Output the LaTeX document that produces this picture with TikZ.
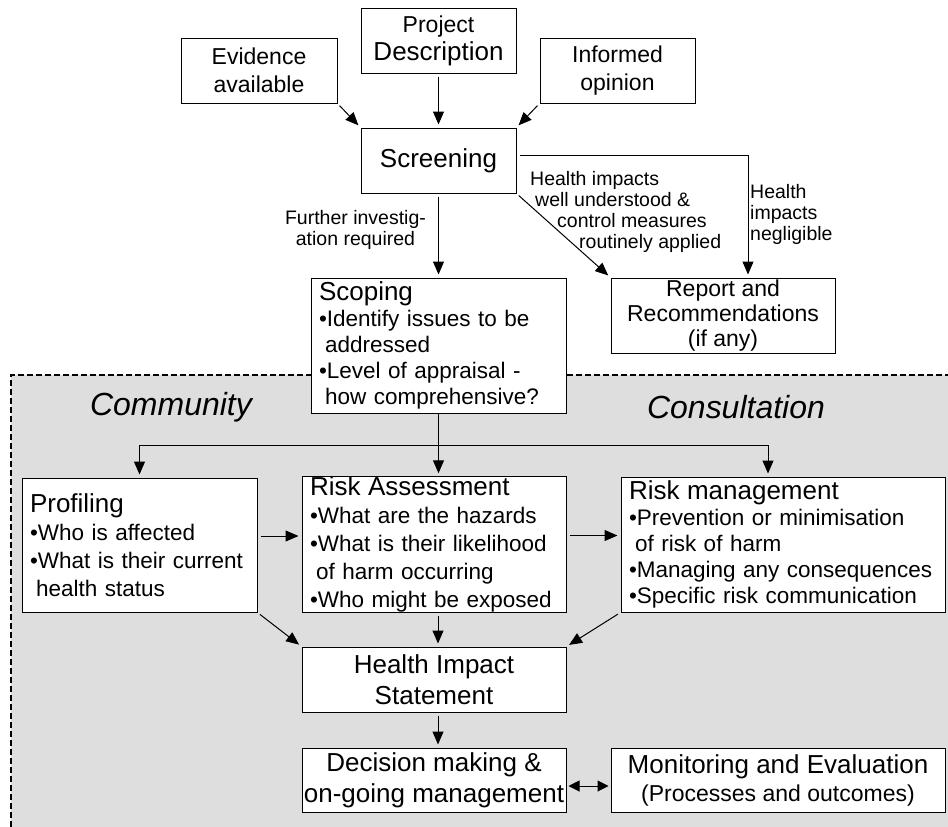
\documentclass[tikz,border=0pt]{standalone}
\usepackage{fontspec}
\setmainfont{Liberation Sans}
\usetikzlibrary{arrows.meta}
\newcommand{\hiabig}{\fontsize{26}{31}\selectfont}
\newcommand{\hiamid}{\fontsize{23}{28}\selectfont}
\newcommand{\hialist}{\fontsize{22.5}{28}\selectfont}
\newcommand{\hiabox}[4] {\node at (#1) (#2) [hiabox, #3] {#4};}
\newcommand{\hiaarrow}[2] {\draw [flow] (#1) -- (#2);}
\tikzset{
  hiabox/.style={draw, line width=1pt, fill=white, inner sep=0pt, align=center, font=\hiamid},
  listbox/.style={hiabox, align=left, inner xsep=8pt, inner ysep=0pt, text width=#1, font=\hialist},
  flow/.style={-{Triangle[length=13pt,width=11pt]}, line width=1pt, shorten <=3pt, shorten >=3pt},
  hialabel/.style={inner sep=0pt, align=center, font=\fontsize{19.5}{21}\selectfont},
  hiaarea/.style={inner sep=0pt, font=\fontsize{32}{38}\selectfont\itshape},
}

\begin{document}
\begin{tikzpicture}[x=1pt, y=-1pt]
\useasboundingbox (0,0) rectangle (948,827);

% consultation area
\fill [black!13] (11,375) rectangle (948,827);
\draw [line width=1.3pt, dash pattern=on 6pt off 3pt] (11,827) -- (11,375) -- (948,375);
\node at (171,407) (community) [hiaarea] {Community};
\node at (736,407) (consultation) [hiaarea] {Consultation};

\hiabox {259,70.5} {evidence} {minimum width=156pt, minimum height=65pt} {Evidence\\available};
\hiabox {438.5,40.5} {project} {minimum width=155pt, minimum height=65pt} {Project\\{\hiabig Description}};
\hiabox {617.5,70.5} {informed} {minimum width=155pt, minimum height=65pt} {Informed\\opinion};
\hiabox {438.5,160.5} {screening} {minimum width=155pt, minimum height=65pt, font=\hiabig} {Screening};
\hiabox {438.5,345.5} {scoping} {listbox=239pt, minimum height=135pt, font=\fontsize{22.5}{26}\selectfont}
  {{\hiabig Scoping}\\•Identify issues to be\\\hspace*{6pt}addressed\\•Level of appraisal -\\\hspace*{6pt}how comprehensive?};
\hiabox {723,315.5} {report} {minimum width=224pt, minimum height=75pt, font=\fontsize{23}{25}\selectfont} {Report and\\Recommendations\\(if any)};

\hiabox {139.5,545} {profiling} {listbox=219pt, minimum height=134pt}
  {{\hiabig Profiling}\\•Who is affected\\•What is their current\\\hspace*{6pt}health status};
\hiabox {434,544.5} {ra} {listbox=248pt, minimum height=135pt}
  {{\hiabig Risk Assessment}\\•What are the hazards\\•What is their likelihood\\\hspace*{6pt}of harm occurring\\•Who might be exposed};
\hiabox {783,544.5} {rm} {listbox=308pt, minimum height=135pt, font=\fontsize{22.5}{26}\selectfont}
  {{\hiabig Risk management}\\•Prevention or minimisation\\\hspace*{6pt}of risk of harm\\•Managing any consequences\\•Specific risk communication};
\hiabox {434,679.5} {his} {minimum width=264pt, minimum height=65pt, font=\hiabig} {Health Impact\\Statement};
\hiabox {434,780} {decision} {minimum width=264pt, minimum height=64pt, font=\hiabig} {Decision making \&\\on-going management};
\hiabox {778,780} {monitoring} {minimum width=334pt, minimum height=64pt} {{\hiabig Monitoring and Evaluation}\\(Processes and outcomes)};

\hiaarrow {evidence.south east} {screening.north west};
\hiaarrow {project} {screening};
\hiaarrow {informed.south west} {screening.north east};
\hiaarrow {screening} {scoping};
\hiaarrow {screening.south east} {report.north west};
\draw [flow] ([yshift=5.5pt]screening.east) -| ([xshift=25pt]report.north);

\node at (355.5,230) (further) [hialabel] {Further investig-\\ation required};
\node at (530,171) (understood) [hialabel, anchor=north west, align=left]
  {Health impacts\\\hspace*{5pt}well understood \&\\\hspace*{27pt}control measures\\\hspace*{49pt}routinely applied};
\node at (750,184) (negligible) [hialabel, anchor=north west, align=left] {Health\\impacts\\negligible};

\coordinate (split) at (438.5,445);
\draw [line width=1pt] (scoping.south) -- (split);
\draw [flow, shorten <=0pt] (split) -| (profiling.north);
\draw [flow, shorten <=0pt] (split) -- (split |- ra.north);
\draw [flow, shorten <=0pt] (split) -| ([xshift=-15pt]rm.north);

\draw [flow] ([yshift=9pt]profiling.east) -- ([yshift=9pt]profiling.east -| ra.west);
\draw [flow] ([yshift=9pt]ra.east) -- ([yshift=9pt]ra.east -| rm.west);
\hiaarrow {profiling.south east} {his.north west};
\draw [flow] ([xshift=4pt]ra.south) -- ([xshift=4pt]his.north);
\hiaarrow {rm.south west} {his.north east};
\draw [flow] ([xshift=4pt]his.south) -- ([xshift=4pt]decision.north);
\draw [flow, {Triangle[length=11pt,width=11pt]}-{Triangle[length=11pt,width=11pt]}, shorten <=2pt, shorten >=2pt]
  ([yshift=-6pt]decision.east) -- ([yshift=-6pt]decision.east -| monitoring.west);

\end{tikzpicture}
\end{document}
